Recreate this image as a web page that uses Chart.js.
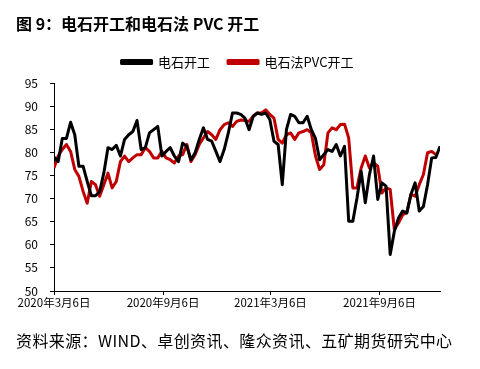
<!DOCTYPE html>
<html>
<head>
<meta charset="utf-8">
<script src="https://cdn.jsdelivr.net/npm/chart.js@4/dist/chart.umd.min.js"></script>
<style>
    html, body { margin: 0; padding: 0; background: #fff; }
    .wrap { position: relative; width: 480px; height: 369px; }
    .title {
        position: absolute; left: 16px; top: 14px;
        font: bold 16px/18px "Noto Sans CJK SC", sans-serif; color: #000;
        white-space: nowrap;
    }
    .source {
        position: absolute; left: 16px; top: 331px;
        font: 16px/18px "Noto Sans CJK SC", sans-serif; color: #000;
        letter-spacing: 0.4px;
        white-space: nowrap;
    }
    canvas { position: absolute; left: 0; top: 0; }
</style>
</head>
<body>
<div class="wrap">
    <canvas id="chart" width="480" height="369"></canvas>
    <div class="title">图 9：电石开工和电石法 PVC 开工</div>
    <div class="source">资料来源：WIND、卓创资讯、隆众资讯、五矿期货研究中心</div>
</div>
<script>
const FONT = '"Noto Sans CJK SC", sans-serif';

// 周度数据, 从 2020-03-06 开始
const startDate = '2020-03-06';

const carbideRate = [
    79, 78, 83, 83, 86.5, 83.8, 77, 77, 73.7, 70.6,
    70.6, 71.5, 75.5, 81, 80.6, 81.5, 79.2, 82.8, 83.8, 84.5,
    86.9, 80.6, 81, 84.2, 84.9, 85.6, 79.2, 80.2, 81, 79.2,
    78, 82, 81.3, 78.4, 79.9, 82.8, 85.3, 82.8, 82.4, 80.2,
    78, 80.6, 84.2, 88.5, 88.5,
    88.2, 87.4, 84.9, 87.8, 88.5, 88.2, 88.5, 87.1, 82.4, 81.7,
    73, 84.9, 88.2, 87.8, 86.4, 86.4, 87.8, 84.9, 83, 78.4,
    79.5, 80.6, 80.2, 81.7, 79.2, 81.3, 65.1, 65.1, 70.1, 75.9,
    69.1, 75.2, 79.2, 69.8, 73.4, 72.7, 57.9, 62.9, 65.8, 67.3,
    66.9, 70.9, 73.4, 67.3, 68.3, 73, 78.8, 78.9, 81.3
];

const pvcRate = [
    76.6, 79.2, 80.6, 81.7, 80.2, 76.3, 74.8, 71.6, 69, 73.7,
    73, 70.5, 73, 75.5, 72.3, 73.7, 78, 79.2, 78, 78.8,
    79.5, 79.5, 81, 80.2, 78.8, 78.8, 80.2, 78.8, 78.4, 77.7,
    79.2, 79.5, 81.7, 78, 79.5, 81.7, 83.1, 84.5, 83.8, 82.8,
    84.9, 86, 86.4, 85.6, 86.7,
    87, 86.9, 86.7, 87.8, 88.5, 88.5, 89.2, 88.2, 87.4, 82.8,
    82, 83.8, 84.2, 82.8, 84.2, 84.5, 84.9, 84.2, 79.2, 76.3,
    77.3, 84.2, 85.3, 84.9, 86, 86.1, 83.1, 72.3, 72.3, 76.6,
    79.2, 76.6, 77.7, 77, 71.2, 72.3, 72, 63.3, 64.7, 66.5,
    66.9, 70.9, 70.5, 73, 75.2, 79.9, 80.2, 79.5
];

const tickDates  = ['2020-03-06', '2020-09-06', '2021-03-06', '2021-09-06'];
const tickLabels = ['2020年3月6日', '2020年9月6日', '2021年3月6日', '2021年9月6日'];

const DAY = 86400000;
const dayOffset = s => Math.round((Date.parse(s) - Date.parse(startDate)) / DAY);
const tickDays = tickDates.map(dayOffset);

// 每周一个点
const toPoints = arr => arr.map((v, i) => ({ x: i * 7, y: v }));

// 图例下方留一点空
const legendGap = {
    id: 'legendGap',
    beforeInit(chart) {
        const fit = chart.legend.fit;
        chart.legend.fit = function () {
            fit.call(this);
            this.height += 4.5;
        };
    }
};

new Chart(document.getElementById('chart').getContext('2d'), {
    type: 'line',
    data: {
        datasets: [
            {
                label: '电石开工',
                data: toPoints(carbideRate),
                borderColor: '#000000',
                backgroundColor: '#000000',
                borderWidth: 3,
                pointRadius: 0,
                borderJoinStyle: 'round',
                tension: 0
            },
            {
                label: '电石法PVC开工',
                data: toPoints(pvcRate),
                borderColor: '#c00000',
                backgroundColor: '#c00000',
                borderWidth: 3,
                pointRadius: 0,
                borderJoinStyle: 'round',
                tension: 0
            }
        ]
    },
    options: {
        responsive: false,
        animation: false,
        devicePixelRatio: 1,
        layout: { padding: { left: 16, right: 21, top: 37.5, bottom: 54 } },
        plugins: {
            legend: {
                position: 'top',
                align: 'center',
                labels: {
                    boxWidth: 30,
                    boxHeight: 3,
                    padding: 18,
                    color: '#000',
                    font: { family: FONT, size: 13 }
                }
            },
            tooltip: { enabled: false }
        },
        scales: {
            x: {
                type: 'linear',
                min: 0,
                max: (carbideRate.length - 1) * 7,
                afterBuildTicks: axis => { axis.ticks = tickDays.map(v => ({ value: v })); },
                // 右边留到 440px
                afterFit: axis => { axis.height = 24; axis.paddingRight = 40; },
                grid: { drawOnChartArea: false, drawTicks: true, tickLength: 4, tickColor: '#000' },
                border: { display: true, color: '#000', width: 1 },
                ticks: {
                    autoSkip: false,
                    maxRotation: 0,
                    padding: 1,
                    color: '#000',
                    font: { family: FONT, size: 11.5 },
                    callback: v => tickLabels[tickDays.indexOf(v)] ?? ''
                }
            },
            y: {
                min: 50,
                max: 95,
                afterFit: axis => { axis.width = 38; },
                grid: { drawOnChartArea: false, drawTicks: true, tickLength: 4, tickColor: '#000' },
                border: { display: true, color: '#000', width: 1 },
                ticks: {
                    stepSize: 5,
                    padding: 12,
                    color: '#000',
                    font: { family: FONT, size: 12 }
                }
            }
        }
    },
    plugins: [legendGap]
});
</script>
</body>
</html>
